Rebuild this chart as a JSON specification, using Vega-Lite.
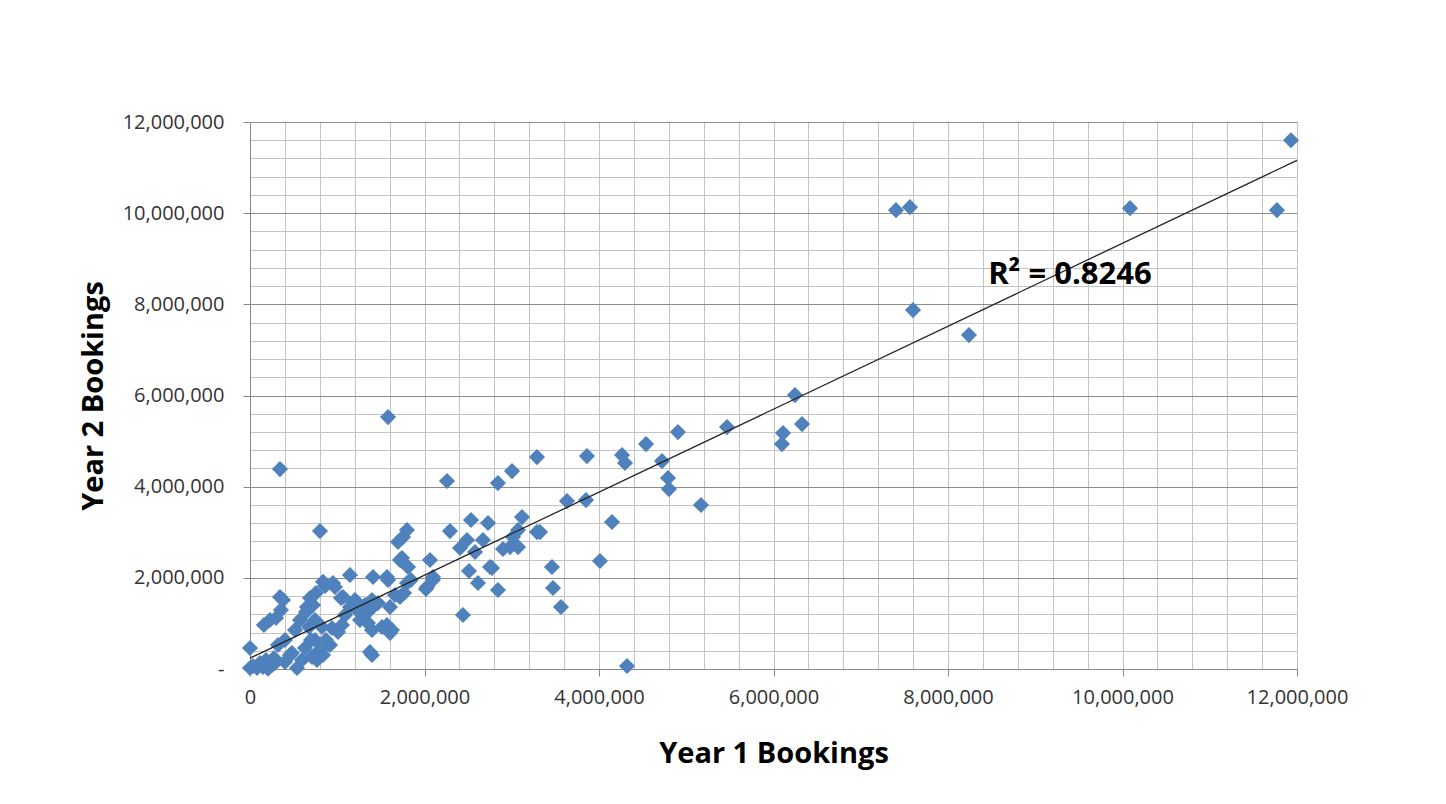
{
  "$schema": "https://vega.github.io/schema/vega-lite/v6.json",
  "width": 1047,
  "height": 547,
  "autosize": {"type": "none"},
  "padding": {"left": 250, "top": 122, "right": 149, "bottom": 135},
  "background": "white",
  "config": {"view": {"stroke": "#bfbfbf"}, "font": "Open Sans"},
  "datasets": {
    "pts": [
      {"year1": 11931000, "year2": 11601000}, {"year1": 11770000, "year2": 10066000}, {"year1": 10086000, "year2": 10110000},
      {"year1": 7404000, "year2": 10066000}, {"year1": 7564000, "year2": 10132000}, {"year1": 7599000, "year2": 7873000},
      {"year1": 8240000, "year2": 7325000}, {"year1": 6246000, "year2": 6009000}, {"year1": 6327000, "year2": 5373000},
      {"year1": 6109000, "year2": 5175000}, {"year1": 6097000, "year2": 4934000}, {"year1": 5467000, "year2": 5307000},
      {"year1": 4905000, "year2": 5197000}, {"year1": 4539000, "year2": 4934000}, {"year1": 5169000, "year2": 3597000},
      {"year1": 4722000, "year2": 4561000}, {"year1": 4791000, "year2": 4189000}, {"year1": 4802000, "year2": 3947000},
      {"year1": 4264000, "year2": 4693000}, {"year1": 4298000, "year2": 4518000}, {"year1": 3862000, "year2": 4671000},
      {"year1": 3851000, "year2": 3706000}, {"year1": 4149000, "year2": 3224000}, {"year1": 4011000, "year2": 2368000},
      {"year1": 4321000, "year2": 66000}, {"year1": 3633000, "year2": 3684000}, {"year1": 3289000, "year2": 4649000},
      {"year1": 3289000, "year2": 3004000}, {"year1": 3461000, "year2": 2237000}, {"year1": 3473000, "year2": 1776000},
      {"year1": 3564000, "year2": 1360000}, {"year1": 3003000, "year2": 4342000}, {"year1": 2842000, "year2": 4079000},
      {"year1": 2258000, "year2": 4123000}, {"year1": 1582000, "year2": 5526000}, {"year1": 344000, "year2": 4386000},
      {"year1": 802000, "year2": 3026000}, {"year1": 2292000, "year2": 3026000}, {"year1": 2533000, "year2": 3268000},
      {"year1": 2728000, "year2": 3202000}, {"year1": 3117000, "year2": 3333000}, {"year1": 3072000, "year2": 3048000},
      {"year1": 3014000, "year2": 2895000}, {"year1": 2980000, "year2": 2675000}, {"year1": 3072000, "year2": 2675000},
      {"year1": 2900000, "year2": 2632000}, {"year1": 2774000, "year2": 2215000}, {"year1": 2842000, "year2": 1732000},
      {"year1": 2613000, "year2": 1886000}, {"year1": 2510000, "year2": 2149000}, {"year1": 2441000, "year2": 1184000},
      {"year1": 2670000, "year2": 2829000}, {"year1": 2579000, "year2": 2566000}, {"year1": 2487000, "year2": 2829000},
      {"year1": 2407000, "year2": 2654000}, {"year1": 2063000, "year2": 2390000}, {"year1": 2097000, "year2": 1952000},
      {"year1": 2017000, "year2": 1754000}, {"year1": 1799000, "year2": 3048000}, {"year1": 1754000, "year2": 2895000},
      {"year1": 1696000, "year2": 2785000}, {"year1": 1742000, "year2": 2434000}, {"year1": 1811000, "year2": 2237000},
      {"year1": 1845000, "year2": 1952000}, {"year1": 1765000, "year2": 1667000}, {"year1": 1662000, "year2": 1623000},
      {"year1": 1605000, "year2": 1360000}, {"year1": 1570000, "year2": 965000}, {"year1": 1627000, "year2": 855000},
      {"year1": 1605000, "year2": 789000}, {"year1": 1410000, "year2": 2018000}, {"year1": 1582000, "year2": 1952000},
      {"year1": 1398000, "year2": 1513000}, {"year1": 1375000, "year2": 1294000}, {"year1": 1318000, "year2": 1404000},
      {"year1": 1261000, "year2": 1075000}, {"year1": 1398000, "year2": 855000}, {"year1": 1375000, "year2": 373000},
      {"year1": 1398000, "year2": 307000}, {"year1": 1146000, "year2": 2061000}, {"year1": 1226000, "year2": 1294000},
      {"year1": 1181000, "year2": 1447000}, {"year1": 1043000, "year2": 1557000}, {"year1": 974000, "year2": 1798000},
      {"year1": 860000, "year2": 1820000}, {"year1": 1089000, "year2": 1184000}, {"year1": 1054000, "year2": 965000},
      {"year1": 1009000, "year2": 811000}, {"year1": 940000, "year2": 899000}, {"year1": 871000, "year2": 636000},
      {"year1": 802000, "year2": 417000}, {"year1": 768000, "year2": 197000}, {"year1": 837000, "year2": 307000},
      {"year1": 917000, "year2": 526000}, {"year1": 722000, "year2": 1404000}, {"year1": 756000, "year2": 1667000},
      {"year1": 688000, "year2": 1557000}, {"year1": 642000, "year2": 1250000}, {"year1": 573000, "year2": 1075000},
      {"year1": 516000, "year2": 855000}, {"year1": 676000, "year2": 921000}, {"year1": 699000, "year2": 636000},
      {"year1": 630000, "year2": 461000}, {"year1": 539000, "year2": 22000}, {"year1": 458000, "year2": 307000},
      {"year1": 378000, "year2": 1513000}, {"year1": 355000, "year2": 1294000}, {"year1": 298000, "year2": 1118000},
      {"year1": 229000, "year2": 1075000}, {"year1": 160000, "year2": 965000}, {"year1": 401000, "year2": 636000},
      {"year1": 321000, "year2": 526000}, {"year1": 275000, "year2": 241000}, {"year1": 252000, "year2": 88000},
      {"year1": 183000, "year2": 197000}, {"year1": 115000, "year2": 132000}, {"year1": 34000, "year2": 66000},
      {"year1": 0, "year2": 461000}, {"year1": 0, "year2": 22000}, {"year1": 80000, "year2": 22000},
      {"year1": 149000, "year2": 44000}, {"year1": 206000, "year2": 5000}, {"year1": 596000, "year2": 197000},
      {"year1": 481000, "year2": 351000}, {"year1": 401000, "year2": 154000}, {"year1": 711000, "year2": 263000},
      {"year1": 1352000, "year2": 1009000}, {"year1": 1203000, "year2": 1513000}, {"year1": 1284000, "year2": 1228000},
      {"year1": 1467000, "year2": 1447000}, {"year1": 1513000, "year2": 921000}, {"year1": 653000, "year2": 1360000},
      {"year1": 745000, "year2": 1075000}, {"year1": 825000, "year2": 921000}, {"year1": 745000, "year2": 636000},
      {"year1": 287000, "year2": 132000}, {"year1": 1570000, "year2": 2018000}, {"year1": 1719000, "year2": 2390000},
      {"year1": 837000, "year2": 1915000}, {"year1": 951000, "year2": 1886000}, {"year1": 1066000, "year2": 1579000},
      {"year1": 1146000, "year2": 1360000}, {"year1": 344000, "year2": 1579000}, {"year1": 1719000, "year2": 1579000},
      {"year1": 1799000, "year2": 1886000}, {"year1": 2097000, "year2": 2018000}, {"year1": 2029000, "year2": 1798000},
      {"year1": 2751000, "year2": 2237000}, {"year1": 3324000, "year2": 3004000}
    ]
  },
  "layer": [
    {
      "data": {"name": "pts"},
      "mark": {"type": "point", "shape": "diamond", "filled": true, "size": 260, "color": "#4F81BD", "opacity": 1},
      "encoding": {
        "x": {
          "field": "year1", "type": "quantitative",
          "scale": {"domain": [0, 12000000], "nice": false},
          "axis": {
            "values": [0,400000,800000,1200000,1600000,2000000,2400000,2800000,3200000,3600000,4000000,4400000,4800000,5200000,5600000,6000000,6400000,6800000,7200000,7600000,8000000,8400000,8800000,9200000,9600000,10000000,10400000,10800000,11200000,11600000,12000000],
            "tickCount": 40,
            "grid": true, "gridColor": "#c3c3c3", "gridWidth": 1,
            "labelExpr": "datum.value % 2000000 === 0 ? format(datum.value, ',') : ''",
            "labelOverlap": false, "labelFlush": false,
            "tickColor": {"condition": {"test": "datum.value % 2000000 === 0", "value": "#888888"}, "value": "transparent"},
            "tickSize": 7, "domainColor": "#888888",
            "labelFontSize": 20, "labelColor": "#333333", "labelPadding": 11,
            "title": "Year 1 Bookings", "titleFontSize": 29, "titleFontWeight": "bold", "titleColor": "#000000", "titlePadding": 32
          }
        },
        "y": {
          "field": "year2", "type": "quantitative",
          "scale": {"domain": [0, 12000000], "nice": false},
          "axis": {
            "values": [0,400000,800000,1200000,1600000,2000000,2400000,2800000,3200000,3600000,4000000,4400000,4800000,5200000,5600000,6000000,6400000,6800000,7200000,7600000,8000000,8400000,8800000,9200000,9600000,10000000,10400000,10800000,11200000,11600000,12000000],
            "tickCount": 40,
            "grid": true,
            "gridColor": {"condition": {"test": "datum.value % 2000000 === 0", "value": "#8c8c8c"}, "value": "#c3c3c3"},
            "labelExpr": "datum.value === 0 ? '-' : (datum.value % 2000000 === 0 ? format(datum.value, ',') : '')",
            "labelOverlap": false, "labelFlush": false,
            "tickColor": {"condition": {"test": "datum.value % 2000000 === 0", "value": "#888888"}, "value": "transparent"},
            "tickSize": 7, "domainColor": "#888888",
            "labelFontSize": 20, "labelColor": "#333333", "labelPadding": 19,
            "title": "Year 2 Bookings", "titleFontSize": 29, "titleFontWeight": "bold", "titleColor": "#000000", "titlePadding": 14
          }
        }
      }
    },
    {
      "data": {"values": [{"year1": 0, "year2": 240000}, {"year1": 12000000, "year2": 11160000}]},
      "mark": {"type": "line", "color": "#222222", "strokeWidth": 1.3},
      "encoding": {
        "x": {"field": "year1", "type": "quantitative"},
        "y": {"field": "year2", "type": "quantitative"}
      }
    },
    {
      "data": {"values": [{"year1": 8460000, "year2": 8640000, "label": "R² = 0.8246"}]},
      "mark": {"type": "text", "align": "left", "baseline": "middle", "fontSize": 31, "fontWeight": "bold", "font": "Open Sans", "color": "#000000"},
      "encoding": {
        "x": {"field": "year1", "type": "quantitative"},
        "y": {"field": "year2", "type": "quantitative"},
        "text": {"field": "label"}
      }
    }
  ]
}
